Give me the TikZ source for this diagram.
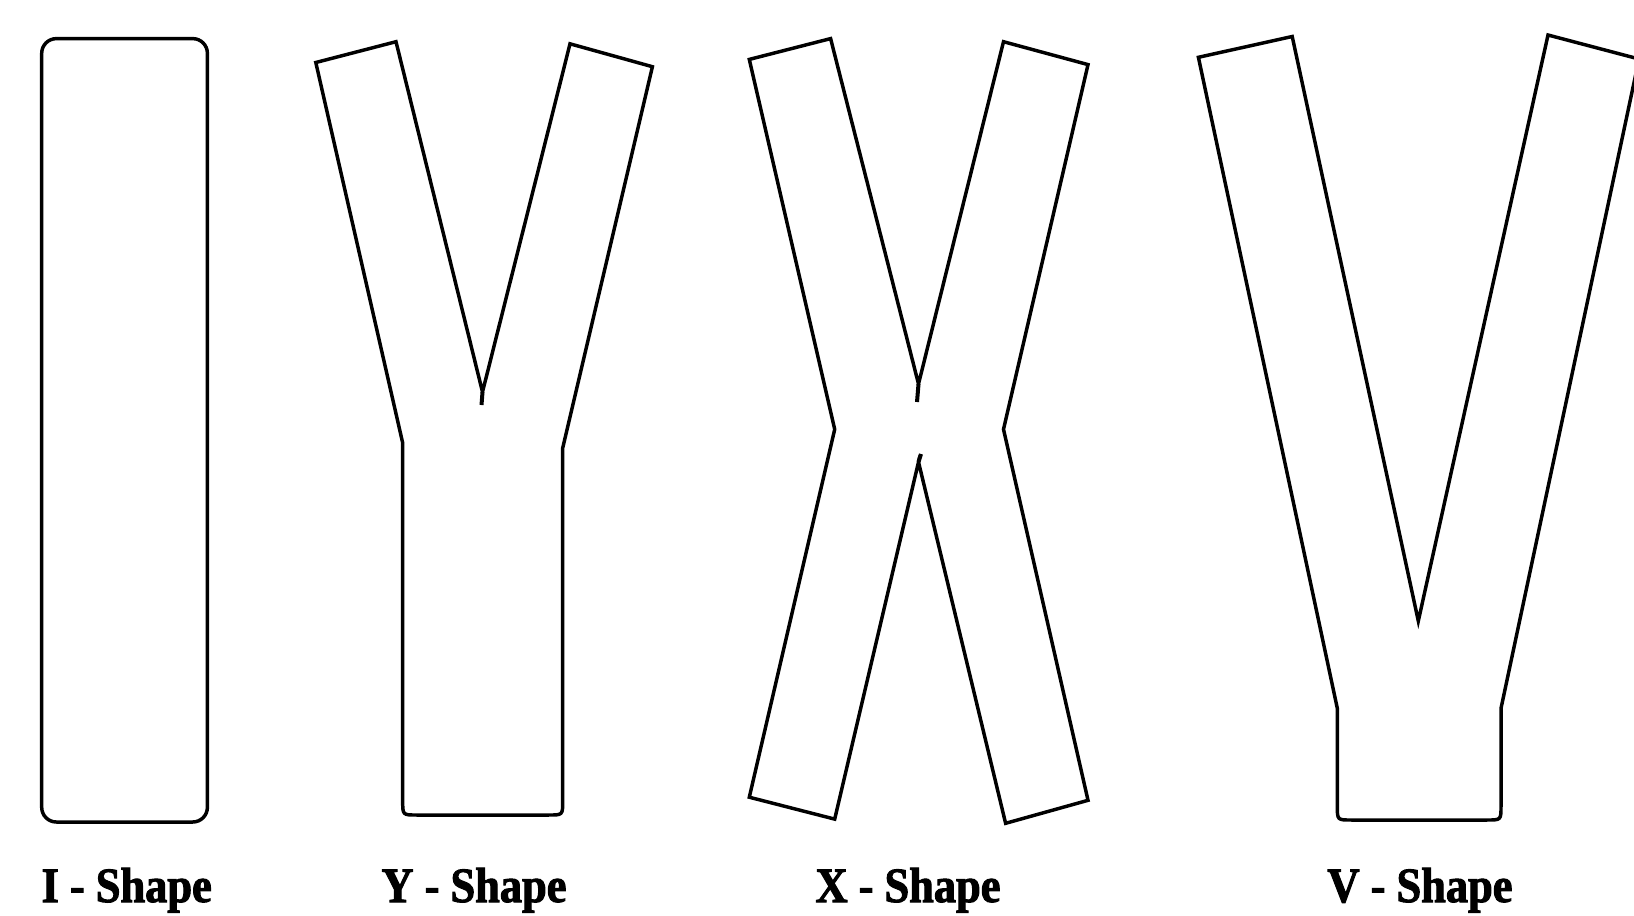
\documentclass[tikz,border=0pt]{standalone}
\usepackage{fontspec}
\setmainfont{Liberation Serif}[FakeStretch=0.9,FakeBold=2]
\begin{document}
\begin{tikzpicture}[x=0.75pt,y=-0.75pt,
  shapeline/.style={line width=2.6pt, line join=miter, black},
  tick/.style={line width=3pt, black},
  lbl/.style={font=\bfseries\fontsize{37}{40}\selectfont, anchor=base, inner sep=0pt}]
\useasboundingbox (0,0) rectangle (1634,915);
\clip (0,0) rectangle (1634,915);
\fill[white] (0,0) rectangle (1634,915);

% I - shape
\draw[shapeline, rounded corners=11pt] (41.7,38.6) rectangle (207.4,822);

% Y - shape
\draw[shapeline] (482.5,392) -- (396,41.7) -- (315.8,62.5) -- (402.7,443)
  -- (402.7,801) .. controls (402.7,815) .. (416.7,815) -- (548.7,815)
  .. controls (562.7,815) .. (562.7,801) -- (562.7,448) -- (652.4,66.7)
  -- (570,43.8) -- cycle;
\draw[tick] (482.5,392) -- (481.5,405);

% X - shape
\draw[shapeline] (834.7,429.3) -- (749.3,59.4) -- (830.6,38.6) -- (918.5,384)
  -- (1003.5,41.7) -- (1088,64.6) -- (1003.5,429.3) -- (1088,800.3)
  -- (1005.6,823.3) -- (918.5,462) -- (834.7,819.1) -- (749.3,797.2) -- cycle;
\draw[tick] (918.5,384) -- (917,402);
\draw[tick] (918.5,462) -- (921,454);

% V - shape
\draw[shapeline] (1418.3,621) -- (1292.2,36.5) -- (1198.4,57.3) -- (1337.3,708.3)
  -- (1337.3,806) .. controls (1337.3,820) .. (1351.3,820) -- (1487,820)
  .. controls (1501,820) .. (1501,806) -- (1501,708.3) -- (1639,59)
  -- (1548,35) -- cycle;

% labels
\node[lbl] (lI) at (126.7,902) {I - Shape};
\node[lbl] (lY) at (474,902) {Y - Shape};
\node[lbl] (lX) at (908,902) {X - Shape};
\node[lbl] (lV) at (1420,902) {V - Shape};
\end{tikzpicture}
\end{document}
